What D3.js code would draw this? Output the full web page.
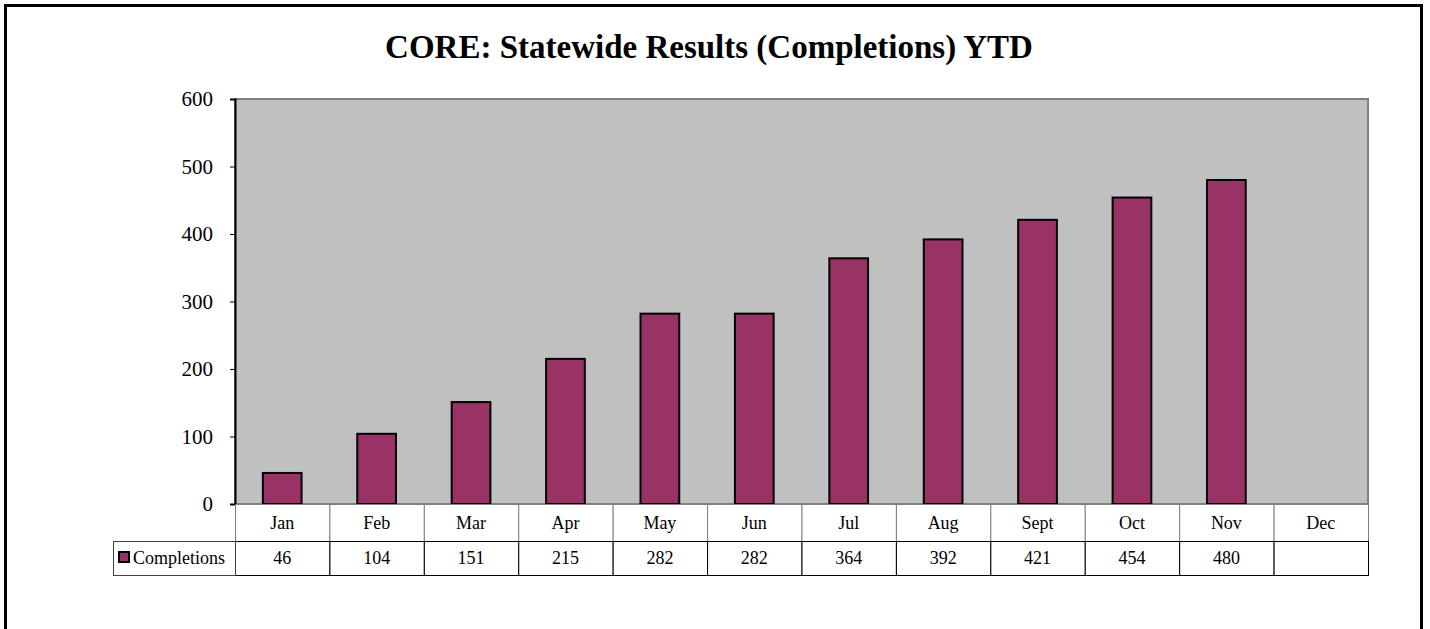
<!DOCTYPE html>
<html>
<head>
<meta charset="utf-8">
<script src="https://cdn.jsdelivr.net/npm/d3@7"></script>
<style>
  body { margin: 0; background: #fff; }
  text { font-family: "Liberation Serif", "Times New Roman", serif; }
</style>
</head>
<body>
<script>
const w = 1430;
const h = 629;

const months = ["Jan", "Feb", "Mar", "Apr", "May", "Jun", "Jul", "Aug", "Sept", "Oct", "Nov", "Dec"];
const completions = [46, 104, 151, 215, 282, 282, 364, 392, 421, 454, 480, null];
const yTicks = [0, 100, 200, 300, 400, 500, 600];
const seriesName = "Completions";

const plot = { left: 235, right: 1368, top: 99, bottom: 504 };
const rowH1 = 37, rowH2 = 34;

const svg = d3.select("body")
    .append("svg")
    .attr("width", w)
    .attr("height", h);

// outer frame (bottom edge runs off the picture)
svg.append("rect")
    .attr("x", 5.5)
    .attr("y", 5.5)
    .attr("width", 1416)
    .attr("height", 700)
    .style("fill", "#fff")
    .style("stroke", "#000")
    .style("stroke-width", 3);

const xScale = d3.scaleBand()
    .domain(months)
    .range([plot.left, plot.right])
    .paddingInner(0)
    .paddingOuter(0);

const yScale = d3.scaleLinear()
    .domain([0, 600])
    .range([plot.bottom, plot.top]);

// plot background
svg.append("rect")
    .attr("x", plot.left)
    .attr("y", plot.top)
    .attr("width", plot.right - plot.left)
    .attr("height", plot.bottom - plot.top)
    .style("fill", "#c0c0c0")
    .style("stroke", "#808080")
    .style("stroke-width", 2);

// bars
const barW = xScale.bandwidth() * 0.41;
svg.selectAll(".bar")
    .data(months.map((m, i) => ({ m, v: completions[i] })).filter(d => d.v != null))
    .enter()
    .append("rect")
      .attr("class", "bar")
      .attr("x", d => xScale(d.m) + (xScale.bandwidth() - barW) / 2)
      .attr("y", d => yScale(d.v))
      .attr("width", barW)
      .attr("height", d => yScale(0) - yScale(d.v))
      .style("fill", "#993366")
      .style("stroke", "#000")
      .style("stroke-width", 2);

// Left axis
const yAxis = d3.axisLeft(yScale).tickValues(yTicks).tickSize(5).tickPadding(17);
const gy = svg.append("g")
    .attr("transform", `translate(${plot.left}, 0)`)
    .call(yAxis);
gy.select(".domain").style("stroke", "#000").style("stroke-width", 2);
gy.selectAll(".tick line").style("stroke", "#000");
gy.selectAll(".tick text")
    .style("font-family", "Liberation Serif, serif")
    .style("font-size", "21px")
    .style("fill", "#000");

// data table
const t1 = plot.bottom, t2 = plot.bottom + rowH1;
const table = svg.append("g");

// header row (month labels)
table.selectAll(".hcell")
    .data(months)
    .enter()
    .append("rect")
      .attr("x", d => xScale(d) + 0.5)
      .attr("y", t1 + 0.5)
      .attr("width", xScale.bandwidth())
      .attr("height", rowH1)
      .style("fill", "#fff")
      .style("stroke", "#808080");

table.selectAll(".hlabel")
    .data(months)
    .enter()
    .append("text")
      .attr("x", d => xScale(d) + xScale.bandwidth() / 2)
      .attr("y", t1 + rowH1 / 2 + 6)
      .attr("text-anchor", "middle")
      .style("font-size", "18px")
      .text(d => d);

// value row
table.selectAll(".vcell")
    .data(months)
    .enter()
    .append("rect")
      .attr("x", d => xScale(d) + 0.5)
      .attr("y", t2 + 0.5)
      .attr("width", xScale.bandwidth())
      .attr("height", rowH2)
      .style("fill", "#fff")
      .style("stroke", "#000");

table.selectAll(".vlabel")
    .data(months.map((m, i) => ({ m, v: completions[i] })))
    .enter()
    .append("text")
      .attr("x", d => xScale(d.m) + xScale.bandwidth() / 2)
      .attr("y", t2 + rowH2 / 2 + 6)
      .attr("text-anchor", "middle")
      .style("font-size", "18px")
      .text(d => d.v == null ? "" : d.v);

// legend cell
table.append("rect")
    .attr("x", 113.5)
    .attr("y", t2 + 0.5)
    .attr("width", plot.left - 113)
    .attr("height", rowH2)
    .style("fill", "#fff")
    .style("stroke", "#404040");

table.append("rect")
    .attr("x", 119)
    .attr("y", t2 + rowH2 / 2 - 6)
    .attr("width", 10)
    .attr("height", 10)
    .style("fill", "#993366")
    .style("stroke", "#000")
    .style("stroke-width", 2);

table.append("text")
    .attr("x", 133)
    .attr("y", t2 + rowH2 / 2 + 6)
    .style("font-size", "18px")
    .text(seriesName);

// title
svg.append("text")
    .attr("x", 709)
    .attr("y", 58)
    .attr("text-anchor", "middle")
    .style("font-weight", "bold")
    .style("font-size", "33px")
    .text("CORE: Statewide Results (Completions) YTD");
</script>
</body>
</html>
